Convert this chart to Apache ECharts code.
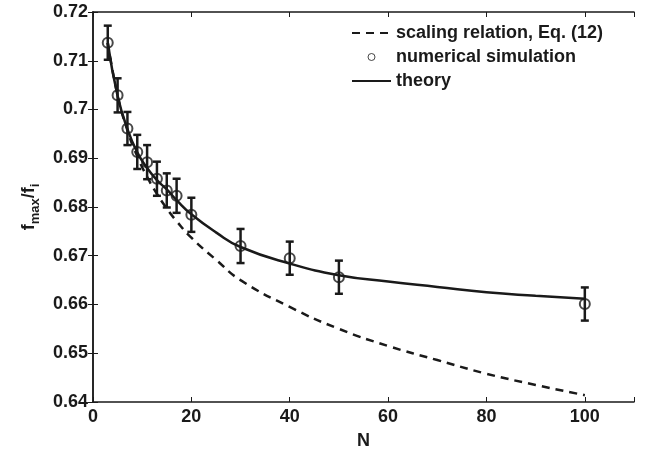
<!DOCTYPE html>
<html>
<head>
<meta charset="utf-8">
<script src="https://cdn.jsdelivr.net/npm/echarts@6/dist/echarts.min.js"></script>
<style>
  html, body { margin: 0; padding: 0; background: #fff; }
  #chart { width: 648px; height: 455px; }
</style>
</head>
<body>
<div id="chart"></div>
<script>
// scaling relation, Eq. (12) (dashed)
const scaleN = [3, 5, 7, 9, 11, 13, 15, 17, 20, 25, 30, 40, 50, 60, 70, 80, 90, 100];
const scaleF = [0.7137, 0.7029, 0.6957, 0.6904, 0.6862, 0.6827, 0.6797, 0.6771, 0.6737, 0.6692, 0.6650, 0.6595, 0.6550, 0.6515, 0.6486, 0.6458, 0.6435, 0.6414];

// numerical simulation (circles + error bars)
const simN = [3, 5, 7, 9, 11, 13, 15, 17, 20, 30, 40, 50, 100];
const simF = [0.7137, 0.7029, 0.6961, 0.6913, 0.6892, 0.6858, 0.6834, 0.6823, 0.6784, 0.6720, 0.6695, 0.6656, 0.6601];
const simErr = [0.0035, 0.0035, 0.0034, 0.0035, 0.0035, 0.0035, 0.0035, 0.0035, 0.0035, 0.0035, 0.0034, 0.0034, 0.0034];

// theory (solid)
const theoryN = [3, 5, 7, 9, 11, 13, 15, 17, 20, 25, 30, 40, 50, 60, 70, 80, 90, 100];
const theoryF = [0.7137, 0.7028, 0.6960, 0.6912, 0.6880, 0.6855, 0.6836, 0.6814, 0.6785, 0.6748, 0.6718, 0.6684, 0.6660, 0.6647, 0.6636, 0.6625, 0.6618, 0.6612];

const xTicks = [0, 20, 40, 60, 80, 100];
const yTicks = [0.64, 0.65, 0.66, 0.67, 0.68, 0.69, 0.7, 0.71, 0.72];

const ink = "#1a1a1a";
const font = "'Liberation Sans', Arial, Helvetica, sans-serif";

const chart = echarts.init(document.getElementById("chart"));

const xBase = {
  type: "value",
  min: 0,
  max: 110,
  interval: 20,
  splitLine: { show: false },
  axisLine: { lineStyle: { color: ink, width: 1.5 } },
  axisTick: { inside: true, length: 5, lineStyle: { color: ink, width: 1 } }
};
const yBase = {
  type: "value",
  min: yTicks[0],
  max: yTicks[yTicks.length - 1],
  interval: 0.01,
  splitLine: { show: false },
  axisLine: { lineStyle: { color: ink, width: 1.5 } },
  axisTick: { inside: true, length: 5, lineStyle: { color: ink, width: 1 } }
};

const option = {
  backgroundColor: "#fff",
  animation: false,
  grid: { left: 93, right: 14, top: 12, bottom: 48 },
  legend: {
    orient: "vertical",
    left: 351,
    top: 24,
    padding: 0,
    itemWidth: 39,
    itemHeight: 7,
    itemGap: 6,
    textStyle: { color: ink, fontSize: 18, fontWeight: "bold", fontFamily: font, lineHeight: 18 },
    data: [
      { name: "scaling relation, Eq. (12)", itemStyle: { opacity: 0 } },
      { name: "numerical simulation", itemStyle: { borderWidth: 1 } },
      { name: "theory", itemStyle: { opacity: 0 } }
    ]
  },
  xAxis: [
    Object.assign({}, xBase, {
      position: "bottom",
      name: "N",
      nameLocation: "middle",
      nameGap: 30,
      nameTextStyle: { color: ink, fontSize: 18, fontWeight: "bold", fontFamily: font },
      axisLabel: {
        color: ink, fontSize: 18, fontWeight: "bold", fontFamily: font, margin: 6,
        formatter: v => (xTicks.indexOf(v) >= 0 ? String(v) : "")
      }
    }),
    Object.assign({}, xBase, { position: "top", axisLabel: { show: false } })
  ],
  yAxis: [
    Object.assign({}, yBase, {
      position: "left",
      name: "f{sub|max}/f{sub|i}",
      nameLocation: "middle",
      nameRotate: 90,
      nameGap: 52,
      nameTextStyle: {
        color: ink, fontSize: 18, fontWeight: "bold", fontFamily: font,
        lineHeight: 26, verticalAlign: "top",
        rich: {
          sub: { fontSize: 13, fontWeight: "bold", fontFamily: font, color: ink, lineHeight: 12, verticalAlign: "bottom" }
        }
      },
      axisLabel: {
        color: ink, fontSize: 18, fontWeight: "bold", fontFamily: font, margin: 5,
        formatter: v => String(Math.round(v * 100) / 100)
      }
    }),
    Object.assign({}, yBase, { position: "right", axisLabel: { show: false } })
  ],
  series: [
    {
      name: "scaling relation, Eq. (12)",
      type: "line",
      data: scaleN.map((n, i) => [n, scaleF[i]]),
      smooth: true,
      symbol: "none",
      color: ink,
      lineStyle: { color: ink, width: 2.5, type: [8, 6] },
      z: 2
    },
    {
      name: "numerical simulation",
      type: "scatter",
      data: simN.map((n, i) => [n, simF[i]]),
      symbol: "circle",
      symbolSize: 10,
      itemStyle: { color: "rgba(255,255,255,0)", borderColor: ink, borderWidth: 2 },
      z: 5
    },
    {
      name: "errorbars",
      type: "custom",
      data: simN.map((n, i) => [n, simF[i] - simErr[i], simF[i] + simErr[i]]),
      renderItem: (params, api) => {
        const top = api.coord([api.value(0), api.value(2)]);
        const bot = api.coord([api.value(0), api.value(1)]);
        const w = 4;
        const st = { stroke: ink, lineWidth: 2.5 };
        return {
          type: "group",
          children: [
            { type: "line", shape: { x1: top[0], y1: top[1], x2: bot[0], y2: bot[1] }, style: st },
            { type: "line", shape: { x1: top[0] - w, y1: top[1], x2: top[0] + w, y2: top[1] }, style: st },
            { type: "line", shape: { x1: bot[0] - w, y1: bot[1], x2: bot[0] + w, y2: bot[1] }, style: st }
          ]
        };
      },
      z: 4
    },
    {
      name: "theory",
      type: "line",
      data: theoryN.map((n, i) => [n, theoryF[i]]),
      smooth: true,
      symbol: "none",
      color: ink,
      lineStyle: { color: ink, width: 2.5 },
      z: 3
    }
  ]
};

chart.setOption(option);
</script>
</body>
</html>
